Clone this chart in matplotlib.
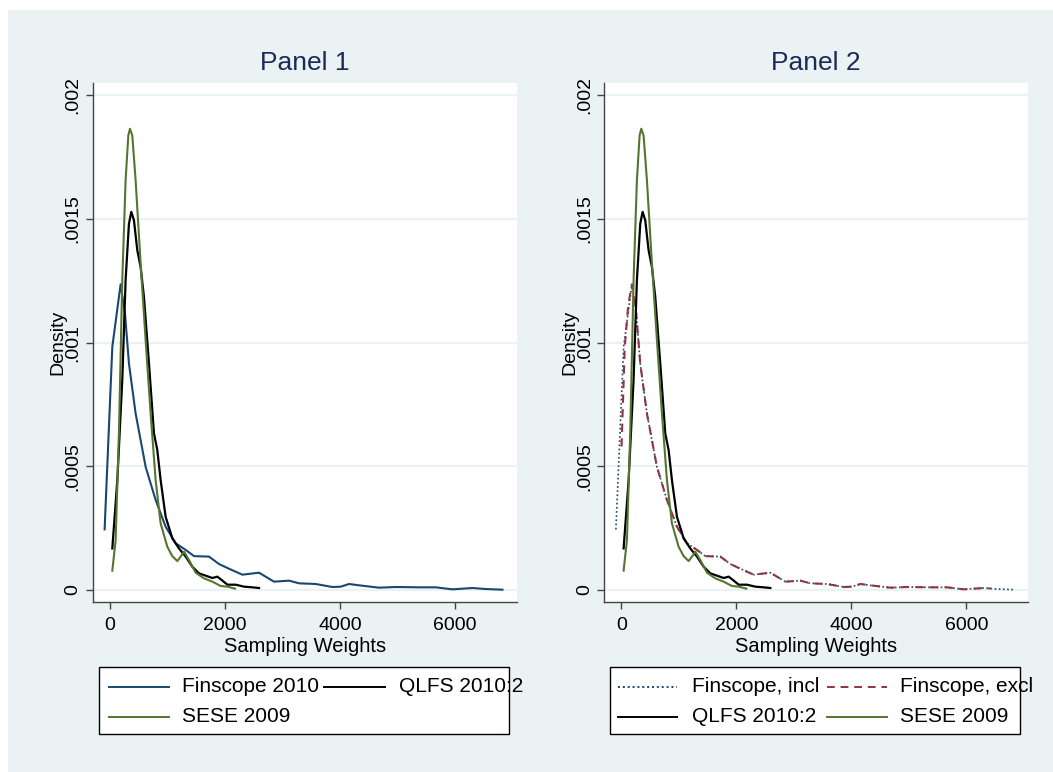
import matplotlib.pyplot as plt
from matplotlib.lines import Line2D
from matplotlib.patches import Rectangle

# Finscope 2010 (all weights)
fin_x = [-93, 41, 185, 261, 330, 446, 620, 794, 968, 1142, 1316, 1461, 1722, 1896,
         2070, 2301, 2591, 2852, 3113, 3287, 3577, 3866, 4012, 4156, 4330, 4678,
         4968, 5374, 5664, 5953, 6301, 6533, 6823]
fin_y = [.000245, .000983, .001236, .001118, .000916, .000714, .000498, .000364,
         .000256, .000189, .000162, .000137, .000135, .000105, .000086, .000062,
         .000070, .0000337, .0000378, .000027, .0000243, .0000121, .0000135,
         .0000243, .0000189, .0000094, .0000121, .0000108, .0000108, .0000027,
         .0000081, .000004, .0000013]

# Finscope, excl
excl_x = [5, 60, 120, 185, 261, 330, 446, 620, 794, 968, 1142, 1316, 1461, 1722,
          1896, 2070, 2301, 2591, 2852, 3113, 3287, 3577, 3866, 4012, 4156, 4330,
          4678, 4968, 5374, 5664, 5953, 6301, 6420]
excl_y = [.00058, .00098, .00115, .001236, .001118, .000916, .000714, .000498,
          .000364, .000256, .000189, .000162, .000137, .000135, .000105, .000086,
          .000062, .000070, .0000337, .0000378, .000027, .0000243, .0000121,
          .0000135, .0000243, .0000189, .0000094, .0000121, .0000108, .0000108,
          .0000027, .0000081, .000006]

# QLFS 2010:2
qlfs_x = [41, 128, 214, 272, 330, 371, 417, 475, 533, 591, 678, 765, 823, 881, 968,
          1084, 1200, 1316, 1432, 1548, 1664, 1780, 1867, 1942, 2041, 2185, 2330,
          2475, 2591]
qlfs_y = [.000168, .000444, .000849, .001253, .001481, .001529, .001495, .001374,
          .001306, .001185, .000916, .000633, .000566, .000444, .000296, .000209,
          .000168, .000135, .0000943, .0000673, .0000579, .0000485, .0000539,
          .0000404, .0000215, .0000215, .0000135, .0000108, .0000081]

# SESE 2009
sese_x = [41, 99, 157, 214, 272, 319, 348, 388, 446, 533, 620, 707, 794, 881, 997,
          1084, 1171, 1229, 1287, 1374, 1490, 1635, 1780, 1925, 2041, 2174]
sese_y = [.0000781, .000202, .000646, .001253, .001657, .001838, .001865, .001838,
          .001657, .00132, .00101, .000714, .000444, .000269, .000175, .000137,
          .000117, .000135, .000155, .000121, .00007, .0000471, .0000337,
          .0000162, .0000135, .0000054]

yticks = [0, .0005, .001, .0015, .002]
ytick_labels = ['0', '.0005', '.001', '.0015', '.002']
xticks = [0, 2000, 4000, 6000]

BG = '#EAF2F3'
NAVY = '#1a476f'
MAROON = '#90353b'
GREEN = '#55752f'
TITLE = '#1c2b55'
FONT = 'Liberation Sans'

plt.rcParams['font.family'] = [FONT, 'DejaVu Sans']

W, H = 1053, 772
fig = plt.figure(figsize=(W / 100, H / 100), dpi=100, facecolor='white')
fig.patches.append(Rectangle((8 / W, 0), 1 - 8 / W, 1 - 10 / H, transform=fig.transFigure,
                             facecolor=BG, edgecolor='none', zorder=-10))


def px(x, y):
    # pixel position (from top left) -> figure fraction
    return x / W, 1 - y / H


def setup_axes(left, title):
    ax = fig.add_axes([left / W, 1 - 601.7 / H, 424 / W, 518.7 / H])
    ax.set_facecolor('white')
    ax.set_xlim(-300, 7070)
    ax.set_ylim(-0.0000473, 0.00205)
    for s in ['top', 'right']:
        ax.spines[s].set_visible(False)
    for s in ['left', 'bottom']:
        ax.spines[s].set_color('#444444')
        ax.spines[s].set_linewidth(1.0)
    ax.set_yticks(yticks)
    ax.set_yticklabels(ytick_labels)
    ax.set_xticks(xticks)
    ax.tick_params(axis='y', labelrotation=90, length=5, width=1.0, color='#444444',
                   labelsize=14, pad=3)
    ax.tick_params(axis='x', length=5, width=1.0, color='#444444', labelsize=14, pad=6)
    for lab in ax.get_yticklabels():
        lab.set_verticalalignment('center')
    ax.yaxis.grid(True, color=BG, linewidth=1.6)
    ax.set_axisbelow(True)
    ax.text(0.5, 1.039, title, transform=ax.transAxes, ha='center', va='center',
            fontsize=19, color=TITLE)
    ax.set_xlabel('Sampling Weights', fontsize=14.5)
    ax.xaxis.set_label_coords(0.5, -0.068)
    ax.text(-0.081, 0.5, 'Density', transform=ax.transAxes, ha='center', va='center',
            rotation=90, fontsize=14)
    return ax


def legend_box(x0, x1, entries):
    fig.patches.append(Rectangle(px(x0, 734), (x1 - x0) / W, (734 - 667) / H,
                                 transform=fig.transFigure, facecolor='white',
                                 edgecolor='black', linewidth=1.0, zorder=5))
    for (lx0, lx1, tx, ty, label, color, ls) in entries:
        fig.add_artist(Line2D([lx0 / W, lx1 / W], [1 - ty / H, 1 - ty / H],
                              transform=fig.transFigure, color=color, linestyle=ls,
                              linewidth=1.4, zorder=6))
        fig.text(tx / W, 1 - ty / H, label, ha='left', va='center', fontsize=15, zorder=6)


DOT = (0, (1, 1.5))
DASH = (0, (4, 3))

# Panel 1
ax1 = setup_axes(92.7, 'Panel 1')
ax1.plot(fin_x, fin_y, color=NAVY, lw=1.5)
ax1.plot(qlfs_x, qlfs_y, color='black', lw=1.6)
ax1.plot(sese_x, sese_y, color=GREEN, lw=1.5)

legend_box(99, 509, [
    (109, 169, 182, 687, 'Finscope 2010', NAVY, '-'),
    (324, 385, 399, 687, 'QLFS 2010:2', 'black', '-'),
    (109, 169, 182, 717, 'SESE 2009', GREEN, '-'),
])

# Panel 2
ax2 = setup_axes(604, 'Panel 2')
ax2.plot(fin_x, fin_y, color=NAVY, lw=1.2, linestyle=DOT)
ax2.plot(excl_x, excl_y, color=MAROON, lw=1.5, linestyle=DASH)
ax2.plot(qlfs_x, qlfs_y, color='black', lw=1.6)
ax2.plot(sese_x, sese_y, color=GREEN, lw=1.5)

legend_box(610, 1020, [
    (618, 677, 692, 687, 'Finscope, incl', NAVY, DOT),
    (827, 887, 900, 687, 'Finscope, excl', MAROON, DASH),
    (618, 677, 692, 717, 'QLFS 2010:2', 'black', '-'),
    (827, 887, 900, 717, 'SESE 2009', GREEN, '-'),
])

fig.savefig('out.png', dpi=100, facecolor='white')
